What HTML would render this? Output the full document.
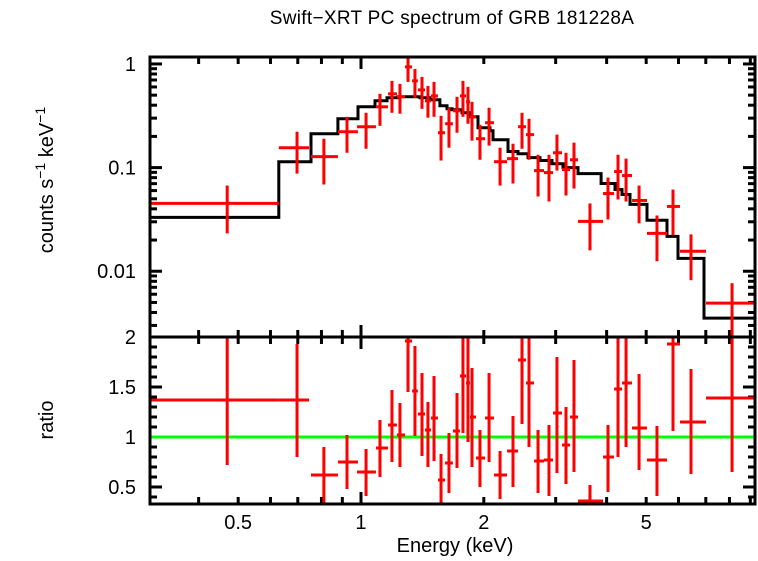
<!DOCTYPE html>
<html><head><meta charset="utf-8"><style>
html,body{margin:0;padding:0;background:#fff;}
svg text{font-family:"Liberation Sans",sans-serif;fill:#000;}
</style></head><body>
<svg id="chart" width="758" height="556" viewBox="0 0 758 556" xmlns="http://www.w3.org/2000/svg">
<text x="452" y="24" font-size="19" text-anchor="middle" letter-spacing="0.3">Swift−XRT PC spectrum of GRB 181228A</text>
<text transform="translate(53,180) rotate(-90)" font-size="20" text-anchor="middle">counts s<tspan font-size="14" dy="-8">−1</tspan><tspan dy="8"> keV</tspan><tspan font-size="14" dy="-8">−1</tspan></text>
<text transform="translate(53,420) rotate(-90)" font-size="20" text-anchor="middle">ratio</text>
<text x="455" y="552" font-size="20" text-anchor="middle">Energy (keV)</text>
<defs>
<clipPath id="clipTop"><rect x="150" y="57" width="605" height="280"/></clipPath>
<clipPath id="clipBot"><rect x="150" y="337" width="605" height="167"/></clipPath>
</defs>
<g id="ticks"></g>
<g id="labels"></g>
<g id="topMarks" clip-path="url(#clipTop)"></g>
<g id="botMarks" clip-path="url(#clipBot)"></g>
<rect x="150" y="57" width="605" height="280" fill="none" stroke="#000" stroke-width="3"/>
<rect x="150" y="337" width="605" height="167" fill="none" stroke="#000" stroke-width="3"/>
</svg>
<script>
// data
const eCenter=[0.470,0.697,0.811,0.924,1.029,1.113,1.191,1.246,1.304,1.356,1.411,1.459,1.510,1.571,1.643,1.719,1.778,1.829,1.871,1.957,2.060,2.192,2.358,2.481,2.581,2.716,2.889,3.022,3.180,3.327,3.641,4.031,4.265,4.463,4.803,5.314,5.817,6.439,8.118];
const eLow=[0.304,0.629,0.754,0.878,0.978,1.088,1.165,1.225,1.282,1.334,1.379,1.435,1.484,1.544,1.607,1.680,1.748,1.809,1.850,1.914,2.014,2.118,2.280,2.426,2.537,2.655,2.809,2.955,3.109,3.253,3.403,3.919,4.171,4.363,4.616,5.023,5.623,6.051,7.008];
const eHigh=[0.629,0.746,0.878,0.983,1.088,1.165,1.225,1.282,1.334,1.379,1.435,1.484,1.544,1.607,1.680,1.748,1.809,1.850,1.914,2.014,2.118,2.280,2.426,2.537,2.655,2.809,2.955,3.109,3.253,3.403,3.919,4.171,4.363,4.616,5.023,5.623,6.051,7.008,9.346];
const counts=[0.0451,0.1556,0.1276,0.222,0.248,0.386,0.515,0.482,0.936,0.687,0.562,0.441,0.492,0.217,0.265,0.353,0.492,0.431,0.309,0.190,0.271,0.114,0.122,0.248,0.208,0.0936,0.0895,0.139,0.0957,0.119,0.0303,0.0562,0.0916,0.0838,0.0482,0.0232,0.0422,0.0156,0.00492];
const countsHi=[0.0671,0.222,0.190,0.309,0.338,0.515,0.687,0.642,1.19,0.895,0.750,0.614,0.671,0.316,0.378,0.482,0.687,0.601,0.431,0.259,0.378,0.1556,0.170,0.338,0.296,0.133,0.133,0.208,0.139,0.174,0.0451,0.0802,0.133,0.122,0.0671,0.0345,0.0614,0.0227,0.00767];
const countsLo=[0.0232,0.0875,0.0687,0.139,0.152,0.253,0.338,0.331,0.671,0.471,0.369,0.303,0.309,0.117,0.1556,0.217,0.309,0.265,0.182,0.119,0.163,0.0671,0.0702,0.152,0.119,0.0526,0.0471,0.0936,0.0538,0.0628,0.0159,0.0316,0.0492,0.0471,0.029,0.0125,0.0222,0.0082,0.002];
const ratio=[1.37,1.37,0.62,0.75,0.65,0.89,1.12,1.02,1.96,1.46,1.23,1.07,1.19,0.57,0.74,1.06,1.61,1.54,1.20,0.79,1.19,0.62,0.86,1.77,1.54,0.76,0.77,1.24,0.92,1.20,0.36,0.80,1.48,1.54,1.09,0.77,1.93,1.15,1.39];
const ratioHi=[2.01,1.93,0.90,1.02,0.88,1.17,1.47,1.34,2.05,1.91,1.64,1.35,1.61,0.83,1.04,1.44,2.05,2.05,1.69,1.07,1.64,0.86,1.21,2.05,2.05,1.07,1.12,1.80,1.30,1.77,0.52,1.12,2.05,2.05,1.63,1.11,2.05,1.68,2.1];
const ratioLo=[0.72,0.80,0.34,0.48,0.41,0.60,0.75,0.70,1.45,1.01,0.81,0.70,0.76,0.30,0.44,0.69,1.04,0.95,0.70,0.50,0.75,0.38,0.50,1.13,0.90,0.44,0.41,0.64,0.53,0.65,0.33,0.45,0.80,0.90,0.67,0.41,1.06,0.63,0.65];
const modelEdges=[0.304,0.629,0.754,0.878,0.983,1.082,1.158,1.232,1.395,1.476,1.561,1.625,1.671,1.768,1.850,1.935,2.071,2.106,2.292,2.426,2.566,2.746,2.938,3.127,3.403,3.876,4.194,4.363,4.564,5.023,5.623,5.984,6.929,9.24];
const modelValues=[0.0331,0.114,0.212,0.296,0.386,0.441,0.471,0.482,0.471,0.451,0.395,0.369,0.361,0.338,0.309,0.242,0.227,0.186,0.143,0.136,0.125,0.117,0.109,0.100,0.0875,0.0702,0.0614,0.055,0.0441,0.031,0.0217,0.0133,0.00353];
const yTopMajor=[1,0.1,0.01];
const yTopLabels=["1","0.1","0.01"];
const yBotMajor=[0.5,1,1.5,2];
const yBotLabels=["0.5","1","1.5","2"];
const xLabelVals=[0.5,1,2,5];
const xLabels=["0.5","1","2","5"];

const NS="http://www.w3.org/2000/svg";
const X0=150,X1=755,TOP0=57,TOP1=337,BOT0=337,BOT1=504;
const xMin=0.304,xMax=9.24,yMaxT=1.167,yMinT=0.00232,rMin=0.33,rMax=2.0;
function xs(e){return X0+(Math.log10(e)-Math.log10(xMin))/(Math.log10(xMax)-Math.log10(xMin))*(X1-X0);}
function ysT(v){return TOP0+(Math.log10(yMaxT)-Math.log10(v))/(Math.log10(yMaxT)-Math.log10(yMinT))*(TOP1-TOP0);}
function ysB(r){return BOT0+(rMax-r)/(rMax-rMin)*(BOT1-BOT0);}
function ln(g,x1,y1,x2,y2,c,w){const l=document.createElementNS(NS,'line');l.setAttribute('x1',x1);l.setAttribute('y1',y1);l.setAttribute('x2',x2);l.setAttribute('y2',y2);l.setAttribute('stroke',c);l.setAttribute('stroke-width',w);g.appendChild(l);return l;}
function tx(g,x,y,s,anchor){const t=document.createElementNS(NS,'text');t.setAttribute('x',x);t.setAttribute('y',y);t.setAttribute('font-size','20');t.setAttribute('text-anchor',anchor);t.textContent=s;g.appendChild(t);return t;}

const tk=document.getElementById('ticks'),lb=document.getElementById('labels');
for(let d=0.1;d<=10;d*=10){for(let m=1;m<10;m++){const e=m*d;if(e<xMin||e>xMax)continue;const x=xs(e);const L=(m===1)?12:7;
 [[TOP0,1],[TOP1,-1],[BOT0,1],[BOT1,-1]].forEach(([y,s])=>{const l=ln(tk,x,y,x,y+s*L,'#000',3);});}}
for(let d=0.001;d<=1;d*=10){for(let m=1;m<10;m++){const v=m*d;if(v<yMinT||v>yMaxT)continue;const y=ysT(v);const L=(m===1)?12:7;
 const a=ln(tk,X0,y,X0+L,y,'#000',3);
 const b=ln(tk,X1,y,X1-L,y,'#000',3);}}
for(let i=4;i<=20;i++){const r=i/10;const y=ysB(r);const L=(i%5===0)?12:7;
 const a=ln(tk,X0,y,X0+L,y,'#000',3);
 const b=ln(tk,X1,y,X1-L,y,'#000',3);}
yTopMajor.forEach((v,i)=>{const t=tx(lb,136,ysT(v)+7,yTopLabels[i],'end');});
yBotMajor.forEach((v,i)=>{const t=tx(lb,136,ysB(v)+7,yBotLabels[i],'end');});
xLabelVals.forEach((v,i)=>{const t=tx(lb,xs(v),529,xLabels[i],'middle');});

const tg=document.getElementById('topMarks'),bg=document.getElementById('botMarks');
let d='';
modelValues.forEach((v,i)=>{const xa=xs(modelEdges[i]),xb=xs(modelEdges[i+1]),y=ysT(v);d+=(i===0?'M':'L')+xa.toFixed(1)+','+y.toFixed(1)+'L'+xb.toFixed(1)+','+y.toFixed(1);});
const p=document.createElementNS(NS,'path');p.setAttribute('d',d);p.setAttribute('fill','none');p.setAttribute('stroke','#000');p.setAttribute('stroke-width','3');


tg.appendChild(p);
eCenter.forEach((e,i)=>{
 const g=document.createElementNS(NS,'g');
 
 
 const y=ysT(counts[i]),x=xs(e);
 ln(g,xs(eLow[i]),y,xs(eHigh[i]),y,'#f00',3);
 ln(g,x,ysT(countsHi[i]),x,ysT(countsLo[i]),'#f00',3);
 tg.appendChild(g);
 const g2=document.createElementNS(NS,'g');
 
 
 const yr=ysB(ratio[i]);
 ln(g2,xs(eLow[i]),yr,xs(eHigh[i]),yr,'#f00',3);
 ln(g2,x,ysB(ratioHi[i]),x,ysB(ratioLo[i]),'#f00',3);
 bg.appendChild(g2);
});
const gl=ln(bg,X0,ysB(1),X1,ysB(1),'#0f0',3);


bg.insertBefore(gl,bg.firstChild);
</script>
</body></html>
